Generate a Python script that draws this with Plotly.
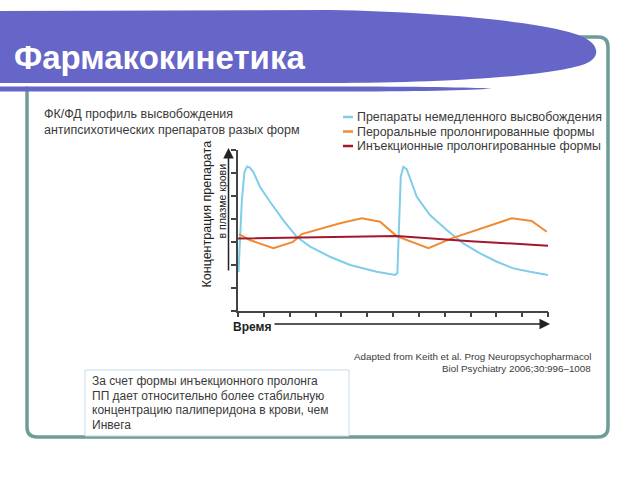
import plotly.graph_objects as go

W, H = 640, 480

# --- data ---
time_ir = [0.02, 0.15, 0.25, 0.35, 0.46, 0.59, 0.85, 1.24, 1.75, 2.27, 2.79, 3.56, 4.34, 5.37, 6.08,
           6.17, 6.30, 6.40, 6.53, 6.72, 6.92, 7.43, 8.08, 8.72, 9.37, 10.02, 10.66, 11.30, 12.0]
conc_ir = [1.68, 4.83, 6.05, 6.29, 6.24, 6.06, 5.41, 4.75, 3.95, 3.22, 2.79, 2.35, 1.99, 1.69, 1.55,
           1.64, 5.84, 6.28, 6.18, 5.55, 4.97, 4.17, 3.52, 2.93, 2.50, 2.13, 1.84, 1.69, 1.55]

time_oral = [0.04, 0.46, 1.37, 2.13, 2.47, 3.95, 4.79, 5.50, 6.14, 7.37, 8.27, 9.24, 9.95, 10.60, 11.37, 11.95]
conc_oral = [3.34, 3.08, 2.72, 3.00, 3.34, 3.81, 4.03, 3.88, 3.25, 2.72, 3.15, 3.52, 3.78, 4.03, 3.91, 3.44]

time_inj = [0.0, 3.2, 6.14, 9.0, 12.0]
conc_inj = [3.15, 3.21, 3.25, 3.03, 2.83]

series_names = ["Препараты немедленного высвобождения",
                "Пероральные пролонгированные формы",
                "Инъекционные пролонгированные формы"]
series_colors = ["#7fcde8", "#f08a33", "#a3172c"]

title_text = "Фармакокинетика"
subtitle_lines = ["ФК/ФД профиль высвобождения", "антипсихотических препаратов разых форм"]
note_lines = ["За счет формы инъекционного пролонга",
              "ПП дает относительно более стабильную",
              "концентрацию палиперидона в крови, чем",
              "Инвега"]
source_lines = ["Adapted from Keith et al. Prog Neuropsychopharmacol",
                "Biol Psychiatry 2006;30:996–1008"]
y_label = ["Концентрация препарата", "в плазме крови"]
x_label = "Время"

FONT = "Liberation Sans, Arial, sans-serif"
TXT = "#3a3a3a"


def px(x):
    return x / W


def py(y):
    return 1 - y / H


def to_paper(d):
    # path written in pixel coords -> paper coords
    out = []
    for tok in d.split():
        if ',' in tok:
            a, b = tok.split(',')
            out.append(f"{px(float(a)):.5f},{py(float(b)):.5f}")
        else:
            out.append(tok)
    return ' '.join(out)


fig = go.Figure()

for t, c, name, col in zip([time_ir, time_oral, time_inj], [conc_ir, conc_oral, conc_inj],
                           series_names, series_colors):
    fig.add_trace(go.Scatter(x=t, y=c, mode='lines', name=name,
                             line=dict(color=col, width=2), showlegend=False, hoverinfo='skip'))

shapes = []
annotations = []

# rounded frame
x0, y0, x1, y1, r = 27, 37, 608, 437, 10
frame = (f"M {x0+r},{y0} L {x1-r},{y0} Q {x1},{y0} {x1},{y0+r} L {x1},{y1-r} Q {x1},{y1} {x1-r},{y1} "
         f"L {x0+r},{y1} Q {x0},{y1} {x0},{y1-r} L {x0},{y0+r} Q {x0},{y0} {x0+r},{y0} Z")
shapes.append(dict(type='path', xref='paper', yref='paper', path=to_paper(frame),
                   line=dict(color='#6e9c98', width=3.5)))

# title banner
banner = ("M 0,11 L 330,10 C 450,12 560,24 585,38 C 600,46 600,58 585,64 "
          "C 550,76 450,83 330,83 L 0,83 Z")
shapes.append(dict(type='path', xref='paper', yref='paper', path=to_paper(banner),
                   fillcolor='#6666c8', line=dict(width=0)))
shapes.append(dict(type='rect', xref='paper', yref='paper', x0=0, x1=px(420), y0=py(86.5), y1=py(83),
                   fillcolor='white', line=dict(width=0)))
band = "M 0,86.5 L 330,86.5 C 420,86.5 470,87.5 492,88.5 C 470,90.5 420,91.5 330,91.5 L 0,91.5 Z"
shapes.append(dict(type='path', xref='paper', yref='paper', path=to_paper(band),
                   fillcolor='#6666c8', line=dict(width=0)))

# note box
shapes.append(dict(type='rect', xref='paper', yref='paper', x0=px(85), x1=px(349), y0=py(436), y1=py(370),
                   fillcolor='white', line=dict(color='#c6dbe9', width=1)))

annotations.append(dict(text=f"<b>{title_text}</b>", x=px(12), y=py(57), xref='paper', yref='paper',
                        xanchor='left', yanchor='middle', showarrow=False,
                        font=dict(family=FONT, size=33, color='white')))

for i, line in enumerate(subtitle_lines):
    annotations.append(dict(text=line, x=px(42), y=py(114 + 16 * i), xref='paper', yref='paper',
                            xanchor='left', yanchor='middle', showarrow=False,
                            font=dict(family=FONT, size=12.5, color=TXT)))

# legend
for i, (name, col) in enumerate(zip(series_names, series_colors)):
    yy = 117 + 14.5 * i
    shapes.append(dict(type='line', xref='paper', yref='paper', x0=px(343), x1=px(353),
                       y0=py(yy), y1=py(yy), line=dict(color=col, width=2.5)))
    annotations.append(dict(text=name, x=px(355), y=py(yy), xref='paper', yref='paper',
                            xanchor='left', yanchor='middle', showarrow=False,
                            font=dict(family=FONT, size=12.4, color=TXT)))

for i, line in enumerate(source_lines):
    annotations.append(dict(text=line, x=px(593), y=py(356 + 12 * i), xref='paper', yref='paper',
                            xanchor='right', yanchor='middle', showarrow=False,
                            font=dict(family=FONT, size=9.8, color=TXT)))

for i, line in enumerate(note_lines):
    annotations.append(dict(text=line, x=px(90), y=py(381 + 14.7 * i), xref='paper', yref='paper',
                            xanchor='left', yanchor='middle', showarrow=False,
                            font=dict(family=FONT, size=12, color=TXT)))

# axis titles and arrows
annotations.append(dict(text=y_label[0], x=px(206.5), y=py(214), xref='paper', yref='paper',
                        textangle=-90, showarrow=False, xanchor='center', yanchor='middle',
                        font=dict(family=FONT, size=12.5, color='#222')))
annotations.append(dict(text=y_label[1], x=px(221.5), y=py(201), xref='paper', yref='paper',
                        textangle=-90, showarrow=False, xanchor='center', yanchor='middle',
                        font=dict(family=FONT, size=10.5, color='#222')))
annotations.append(dict(text='', x=px(228.5), y=py(148), xref='paper', yref='paper',
                        showarrow=True, ax=0, ay=124, arrowhead=2, arrowsize=1.4, arrowwidth=1.5,
                        arrowcolor='#222'))
annotations.append(dict(text=f"<b>{x_label}</b>", x=px(231), y=py(327), xref='paper', yref='paper',
                        xanchor='left', yanchor='middle', showarrow=False,
                        font=dict(family=FONT, size=12, color='#222')))
annotations.append(dict(text='', x=px(550), y=py(324), xref='paper', yref='paper',
                        showarrow=True, ax=-277, ay=0, arrowhead=2, arrowsize=1.4, arrowwidth=1.5,
                        arrowcolor='#222'))

fig.update_layout(
    width=W, height=H,
    margin=dict(l=0, r=0, t=0, b=0),
    paper_bgcolor='white', plot_bgcolor='white',
    shapes=shapes, annotations=annotations,
    showlegend=False,
    xaxis=dict(domain=[px(238), px(548)], range=[0, 12], dtick=1, tick0=0,
               showgrid=False, zeroline=False, showticklabels=False,
               showline=True, linecolor='#444', linewidth=1.5,
               ticks='outside', ticklen=5, tickwidth=1.5, tickcolor='#444', fixedrange=True),
    yaxis=dict(domain=[py(310.5), py(150.3)], range=[0, 7], dtick=1, tick0=0,
               showgrid=False, zeroline=False, showticklabels=False,
               showline=True, linecolor='#444', linewidth=1.5,
               ticks='outside', ticklen=5, tickwidth=1.5, tickcolor='#444', fixedrange=True),
)

# page body has a default 8px margin; drop it so the figure sits at the window origin
fig.write_html("out.html", config={'displayModeBar': False},
               post_script="document.body.style.margin='0';")
